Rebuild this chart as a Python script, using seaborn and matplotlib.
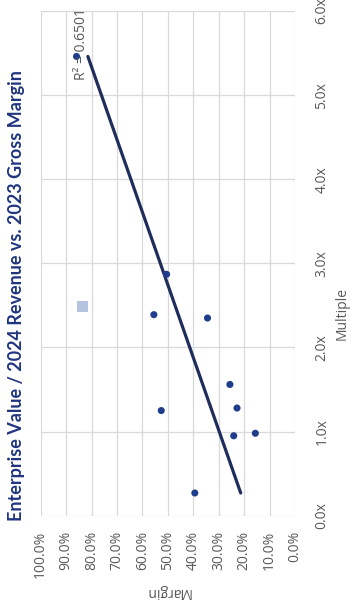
import numpy as np
import pandas as pd
import matplotlib
matplotlib.use("Agg")
import matplotlib.pyplot as plt
import seaborn as sns

# Peer set: EV / 2024 revenue multiple and 2023 gross margin
multiple = [5.46, 2.87, 2.39, 2.35, 1.56, 1.25, 1.28, 0.95, 0.98, 0.27]
margin = [0.859, 0.505, 0.555, 0.344, 0.256, 0.526, 0.228, 0.241, 0.156, 0.394]

# Highlighted company
target_multiple = [2.49]
target_margin = [0.837]

r2_label = "R² = 0.6501"
title = "Enterprise Value / 2024 Revenue vs. 2023 Gross Margin"
margin_ticks = [1.0, 0.9, 0.8, 0.7, 0.6, 0.5, 0.4, 0.3, 0.2, 0.1, 0.0]
multiple_ticks = [0, 1, 2, 3, 4, 5, 6]

sns.set_theme(style="white")
plt.rcParams["font.family"] = ["Open Sans", "DejaVu Sans"]

peers = pd.DataFrame({"Multiple": multiple, "Margin": margin})
target = pd.DataFrame({"Multiple": target_multiple, "Margin": target_margin})

# linear trend of margin on multiple, spanning the observed multiples
slope, intercept = np.polyfit(peers["Multiple"], peers["Margin"], 1)
trend_mult = np.array([peers["Multiple"].min(), peers["Multiple"].max()])
trend = pd.DataFrame({"Multiple": trend_mult, "Margin": intercept + slope * trend_mult})

fig = plt.figure(figsize=(3.52, 6.10), dpi=100)
ax = fig.add_axes([40.7 / 352, 1 - 515.7 / 610, (295 - 40.7) / 352, (515.7 - 11) / 610])

grid_c = "#D9D9D9"
text_c = "#595959"

for m in margin_ticks:
    ax.axvline(m, color=grid_c, lw=0.9, zorder=0)
for v in multiple_ticks:
    ax.axhline(v, color=grid_c, lw=0.9, zorder=0)

sns.lineplot(data=trend, x="Margin", y="Multiple", ax=ax, color="#1F2D5C",
             lw=2.3, sort=False, zorder=3)
sns.scatterplot(data=peers, x="Margin", y="Multiple", ax=ax, color="#203C8C",
                s=26, edgecolor="none", zorder=4)
sns.scatterplot(data=target, x="Margin", y="Multiple", ax=ax, color="#B4C4E0",
                marker="s", s=62, edgecolor="none", zorder=4)

ax.set_xlim(1.0, 0.0)
ax.set_ylim(0, 6)
ax.set_xticks(margin_ticks)
ax.set_xticklabels([f"{m:.1%}" for m in margin_ticks], rotation=90,
                   color=text_c, fontsize=10)
ax.set_yticks(multiple_ticks)
ax.yaxis.tick_right()
ax.set_yticklabels([f"{v:.1f}x" for v in multiple_ticks], rotation=90,
                   va="center", color=text_c, fontsize=10)
ax.tick_params(axis="x", length=0, pad=11)
ax.tick_params(axis="y", length=0, pad=14)
ax.set_xlabel("")
ax.set_ylabel("")
for sp in ax.spines.values():
    sp.set_visible(False)

ax.text(0.839, 5.18, r2_label, rotation=90, ha="center", va="bottom",
        color=text_c, fontsize=10, zorder=5)

fig.text(342 / 352, 1 - 314 / 610, "Multiple", rotation=90, ha="center",
         va="center", color=text_c, fontsize=10)
fig.text(168 / 352, 1 - 592 / 610, "Margin", rotation=180, ha="center",
         va="center", color=text_c, fontsize=10)
fig.text(17 / 352, 1 - 296 / 610, title, rotation=90, ha="center", va="center",
         color="#203580", fontsize=13, fontweight="bold",
         family=["Lato", "DejaVu Sans"])

fig.savefig("out.png", dpi=100)
